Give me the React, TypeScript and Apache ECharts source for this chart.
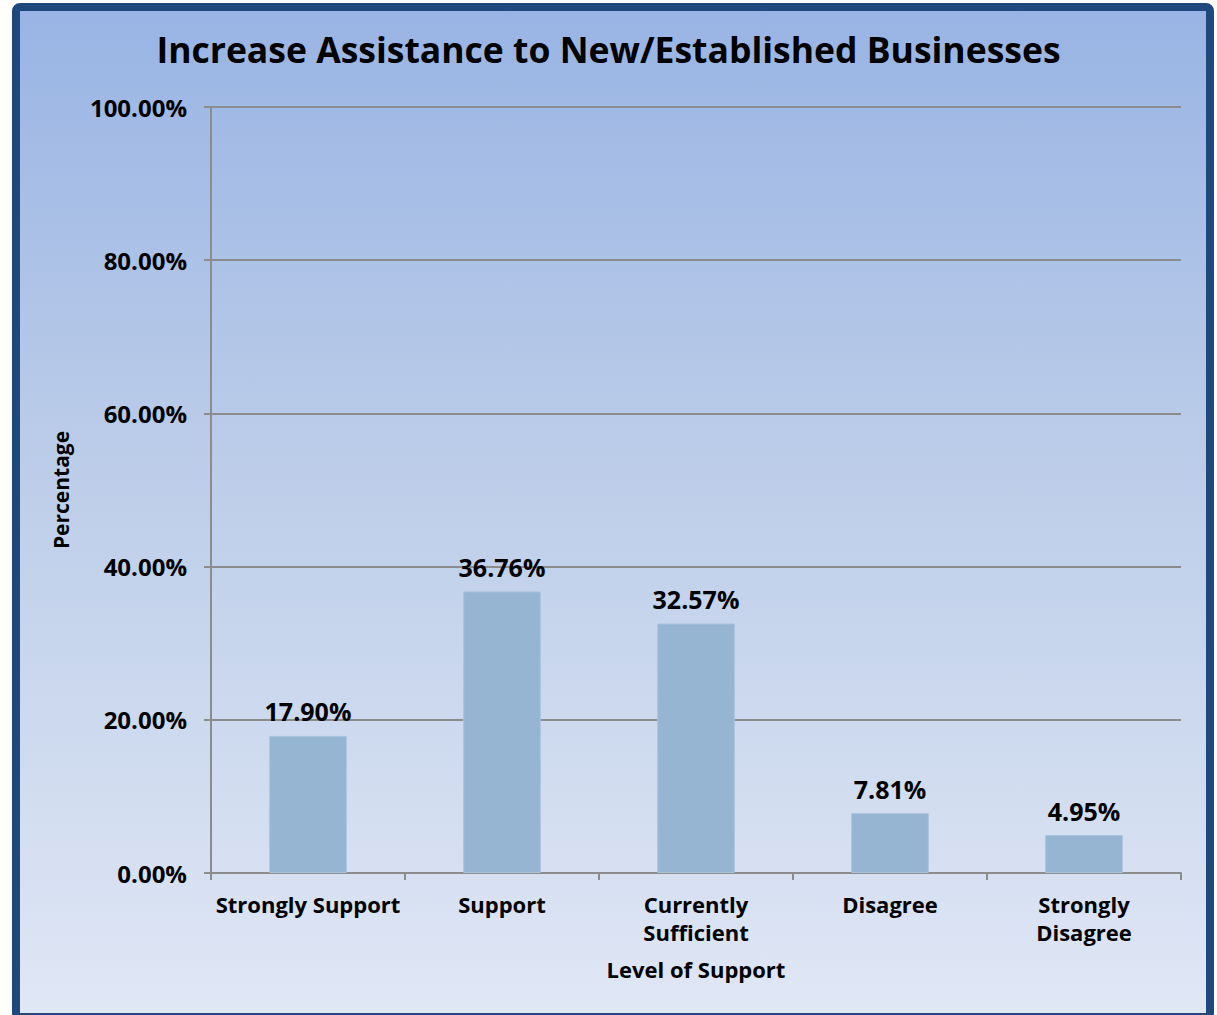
import React, { useEffect, useRef } from "react";
import * as echarts from "echarts";

const categories = ["Strongly Support", "Support", "Currently\nSufficient", "Disagree", "Strongly\nDisagree"];
const values = [17.9, 36.76, 32.57, 7.81, 4.95];
const yMin = 0;
const yMax = 100;
const yInterval = 20;

const FONT = "'Open Sans', Lato, 'DejaVu Sans', sans-serif";

export default function App() {
  const ref = useRef<HTMLDivElement>(null);
  useEffect(() => {
    if (!ref.current) return;
    const chart = echarts.init(ref.current, null, { renderer: "svg" });
    chart.setOption({
      animation: false,
      backgroundColor: "transparent",
      title: {
        text: "Increase Assistance to New/Established Businesses",
        left: "center",
        top: 26,
        textStyle: { fontFamily: FONT, fontWeight: "bold", fontSize: 35.5, color: "#000" },
      },
      grid: { left: 211, right: 36, top: 107, bottom: 142, containLabel: false },
      xAxis: {
        type: "category",
        data: categories,
        name: "Level of Support",
        nameLocation: "middle",
        nameGap: 85,
        nameTextStyle: { fontFamily: FONT, fontWeight: "bold", fontSize: 22, color: "#000" },
        axisLine: { lineStyle: { color: "#8c8c8c", width: 2 } },
        axisTick: { show: true, length: 7, alignWithLabel: false, lineStyle: { color: "#8c8c8c", width: 2 } },
        axisLabel: { fontFamily: FONT, fontWeight: "bold", fontSize: 22, color: "#000", margin: 17, lineHeight: 28, interval: 0 },
      },
      yAxis: {
        type: "value",
        min: yMin,
        max: yMax,
        interval: yInterval,
        name: "Percentage",
        nameLocation: "middle",
        nameRotate: 90,
        nameGap: 140,
        nameTextStyle: { fontFamily: FONT, fontWeight: "bold", fontSize: 21, color: "#000" },
        axisLine: { show: true, lineStyle: { color: "#8c8c8c", width: 2 } },
        axisTick: { show: true, length: 7, lineStyle: { color: "#8c8c8c", width: 2 } },
        splitLine: { show: true, lineStyle: { color: "#8c8c8c", width: 2 } },
        axisLabel: {
          fontFamily: FONT,
          fontWeight: "bold",
          fontSize: 24,
          color: "#000",
          margin: 24,
          formatter: (v: number) => v.toFixed(2) + "%",
        },
      },
      series: [
        {
          type: "bar",
          data: values,
          barWidth: "40%",
          itemStyle: { color: "#95b5d3", borderColor: "#a9c3dc", borderWidth: 1 },
          label: {
            show: true,
            position: "top",
            distance: 12,
            fontFamily: FONT,
            fontWeight: "bold",
            fontSize: 25,
            color: "#000",
            formatter: (p: any) => Number(p.value).toFixed(2) + "%",
          },
        },
      ],
    });
    return () => chart.dispose();
  }, []);

  return (
    <div style={{ position: "fixed", left: 0, top: 0, width: 1217, height: 1015, overflow: "hidden", background: "#fff" }}>
      <div
        style={{
          position: "absolute",
          left: 12,
          top: 3,
          width: 1202,
          height: 1018,
          boxSizing: "border-box",
          border: "8px solid #1f497d",
          borderRadius: 8,
          background: "linear-gradient(to bottom, #99b4e4 0%, #bccde9 45%, #e0e7f5 100%)",
        }}
      />
      <div ref={ref} style={{ position: "absolute", left: 0, top: 0, width: 1217, height: 1015 }} />
    </div>
  );
}
